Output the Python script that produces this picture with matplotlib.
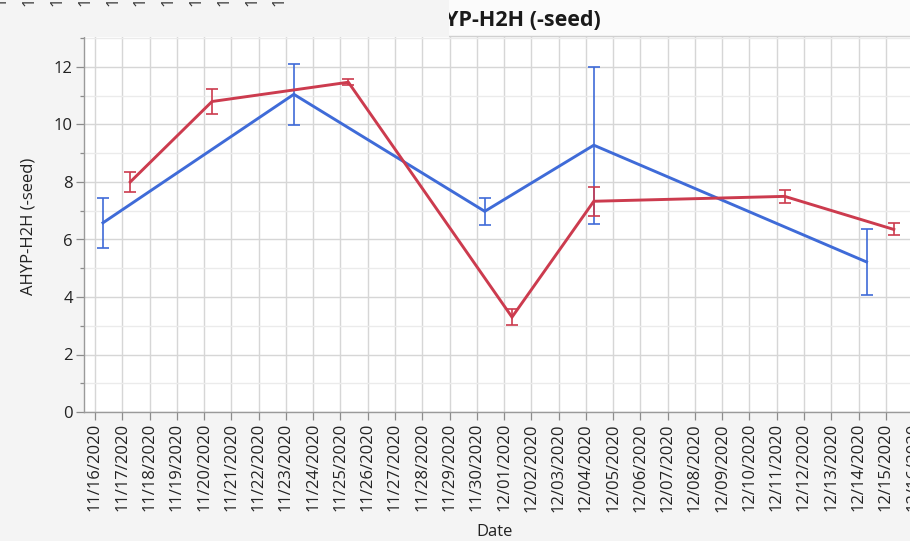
import matplotlib
matplotlib.use("Agg")
import matplotlib.pyplot as plt
import matplotlib.dates as mdates
import numpy as np
import pandas as pd
from matplotlib.patches import Rectangle
from matplotlib.lines import Line2D
from matplotlib.ticker import MultipleLocator

# Series means with +/- error half-widths, sampled in the morning of each date
blue_dates = ["2020-11-16 07:00", "2020-11-23 07:00", "2020-11-30 07:00",
              "2020-12-04 07:00", "2020-12-14 07:00"]
blue_mean = [6.58, 11.05, 6.98, 9.28, 5.22]
blue_err = [0.87, 1.07, 0.48, 2.73, 1.15]

red_dates = ["2020-11-17 07:00", "2020-11-20 07:00", "2020-11-25 07:00",
             "2020-12-01 07:00", "2020-12-04 07:00", "2020-12-11 07:00",
             "2020-12-15 07:00"]
red_mean = [8.0, 10.8, 11.47, 3.3, 7.33, 7.5, 6.35]
red_err = [0.35, 0.45, 0.11, 0.28, 0.5, 0.22, 0.21]

tick_days = pd.date_range("2020-11-16", "2020-12-16", freq="D")
tick_labels = [d.strftime("%m/%d/%Y") for d in tick_days]

title_text = "YP-H2H (-seed)"
y_title = "AHYP-H2H (-seed)"
x_title = "Date"

BLUE = "#3f6bd8"
RED = "#cc3b4e"
FONT = "Open Sans"

W, H = 910, 541
plt.rcParams["font.family"] = [FONT, "DejaVu Sans"]


def fx(px):
    return px / W


def fy(py):
    return 1 - py / H


fig = plt.figure(figsize=(W / 100, H / 100), dpi=100, facecolor="#f4f4f4")

# Plot frame, extending past the right edge of the canvas
left_px, right_px, top_px, bottom_px = 84, 925, 37, 412
ax = fig.add_axes([fx(left_px), fy(bottom_px),
                   (right_px - left_px) / W, (bottom_px - top_px) / H])
ax.set_facecolor("white")

day_px = 27.27
d0 = mdates.date2num(np.datetime64("2020-11-16"))
ax.set_xlim(d0 - (95 - left_px) / day_px, d0 + (right_px - 95) / day_px)
ax.set_ylim(0, (bottom_px - top_px) / 28.75)

bx = mdates.date2num(pd.to_datetime(blue_dates))
rx = mdates.date2num(pd.to_datetime(red_dates))

ax.errorbar(bx, blue_mean, yerr=blue_err, fmt="none", ecolor=BLUE,
            elinewidth=1.2, capsize=4.5, capthick=1.2, zorder=3)
ax.plot(bx, blue_mean, color=BLUE, lw=2.1, zorder=4, solid_joinstyle="miter")
ax.errorbar(rx, red_mean, yerr=red_err, fmt="none", ecolor=RED,
            elinewidth=1.2, capsize=4.5, capthick=1.2, zorder=5)
ax.plot(rx, red_mean, color=RED, lw=2.1, zorder=6, solid_joinstyle="miter")

ax.set_xticks(mdates.date2num(tick_days))
ax.set_xticklabels(tick_labels, rotation=90, fontsize=12, color="#222222")
ax.yaxis.set_major_locator(MultipleLocator(2))
ax.yaxis.set_minor_locator(MultipleLocator(1))
ax.tick_params(axis="y", which="major", labelsize=12, labelcolor="#222222")
ax.tick_params(axis="both", which="major", length=5.5, width=0.9,
               color="#8c8c8c", pad=2.5)
ax.tick_params(axis="y", which="minor", length=3, width=0.9, color="#8c8c8c")

ax.grid(axis="x", which="major", color="#d6d6d6", lw=1.0)
ax.grid(axis="y", which="major", color="#d6d6d6", lw=1.0)
ax.grid(axis="y", which="minor", color="#ebebeb", lw=1.0)
ax.set_axisbelow(True)

for s in ("top", "right"):
    ax.spines[s].set_visible(False)
for s in ("left", "bottom"):
    ax.spines[s].set_color("#9a9a9a")
    ax.spines[s].set_linewidth(1.0)

# Header band with the chart title
fig.patches.append(Rectangle((fx(449), fy(36)), 1 - fx(449), 36 / H,
                             transform=fig.transFigure, facecolor="#fbfbfb",
                             edgecolor="none", zorder=1))
fig.lines.append(Line2D([fx(449), 1], [fy(36), fy(36)],
                        transform=fig.transFigure, color="#d0d0d0", lw=1,
                        zorder=2))
fig.text(fx(445), fy(20), title_text, ha="left", va="center",
         fontsize=15.5, fontweight="bold", color="#1a1a1a", zorder=3)
fig.patches.append(Rectangle((0, fy(37)), fx(449), 37 / H,
                             transform=fig.transFigure, facecolor="#f4f4f4",
                             edgecolor="none", zorder=4))

# Ends of the date labels from the row above
for i in range(11):
    fig.text(fx(2 + i * 27.8), fy(6), "1", rotation=90, ha="center",
             va="bottom", fontsize=12, color="#333333", zorder=5)

fig.text(fx(29), fy(226), y_title, rotation=90, ha="center", va="center",
         fontsize=12, color="#222222")
fig.text(fx(495), fy(532), x_title, ha="center", va="center",
         fontsize=12, color="#222222")

fig.savefig("out.png", dpi=100, facecolor=fig.get_facecolor())
